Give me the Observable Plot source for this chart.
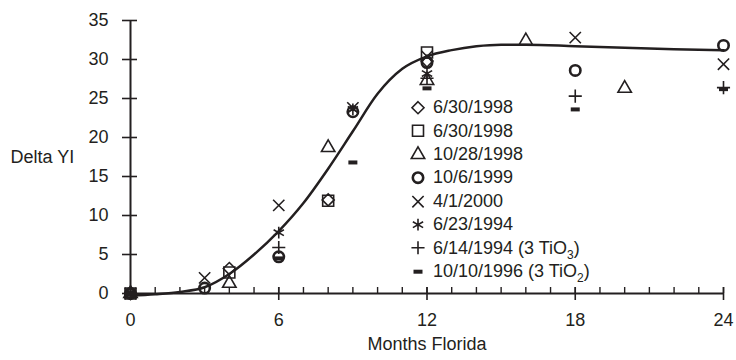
<!DOCTYPE html>
<html>
<head>
<meta charset="utf-8">
<script src="https://cdn.jsdelivr.net/npm/d3@7"></script>
<script src="https://cdn.jsdelivr.net/npm/@observablehq/plot@0.6"></script>
<style>
  body { margin: 0; background: #fff; }
  #chart { position: relative; width: 736px; height: 360px; color: #231f20;
           font-family: "Liberation Sans", Arial, sans-serif; }
  #legend { position: absolute; left: 407px; top: 96px; font-size: 18px; }
  .row { display: flex; align-items: center; height: 23.4px; white-space: nowrap; }
  .row svg { width: 22px; height: 23.4px; flex: none; margin-right: 4px; overflow: visible; }
  sub { font-size: 12px; vertical-align: -5px; line-height: 0; }
</style>
</head>
<body>
<div id="chart"><div id="legend"></div></div>
<script>
const ink = "#231f20";

// Axis ticks
const yTicks = [0, 5, 10, 15, 20, 25, 30, 35];
const xMajor = [0, 6, 12, 18, 24];
const xMinor = d3.range(0, 25);

// Exposure series: [month, delta YI]
const labels = [
  "6/30/1998", "6/30/1998", "10/28/1998", "10/6/1999",
  "4/1/2000", "6/23/1994", "6/14/1994 (3 TiO₃)", "10/10/1996 (3 TiO₂)"
];
const diamondSeries  = [[0, 0], [4, 3.2], [8, 12.0], [12, 29.8]];
const squareSeries   = [[0, 0], [4, 2.7], [8, 11.9], [12, 30.9]];
const triangleSeries = [[0, 0], [4, 1.3], [8, 18.7], [12, 27.3], [16, 32.4], [20, 26.3]];
const circleSeries   = [[0, 0], [3, 0.7], [6, 4.7], [9, 23.3], [12, 29.6], [18, 28.6], [24, 31.8]];
const timesSeries    = [[0, 0], [3, 2.0], [6, 11.3], [9, 23.8], [12, 30.4], [18, 32.8], [24, 29.4]];
const asteriskSeries = [[0, 0], [6, 7.8], [9, 23.6], [12, 28.2]];
const plusSeries     = [[0, 0], [6, 5.9], [12, 27.6], [18, 25.3], [24, 26.4]];
const minusSeries    = [[0, 0], [6, 4.5], [9, 16.8], [12, 26.3], [18, 23.6], [24, 26.2]];

// Fitted trend curve: [month, delta YI]
const fitCurve = [
  [0, -0.3], [1, -0.1], [2, 0.2], [3, 0.8], [4, 2.5], [5, 5.0], [6, 8.0],
  [7, 11.6], [8, 16.0], [9, 20.8], [10, 25.6], [11, 28.8], [12, 30.4],
  [13, 31.2], [14, 31.7], [15, 31.9], [16, 31.9], [18, 31.7], [20, 31.5],
  [22, 31.3], [24, 31.2]
];

// Short filled bar used for the 10/10/1996 series
const minusSymbol = { draw(ctx) { ctx.rect(-4.5, -2, 9, 4); } };

const series = [
  { data: diamondSeries,  symbol: d3.symbolDiamond2,  r: 5.4, sw: 1.6 },
  { data: squareSeries,   symbol: d3.symbolSquare2,   r: 7.0, sw: 1.6 },
  { data: triangleSeries, symbol: d3.symbolTriangle2, r: 6.4, sw: 1.6 },
  { data: circleSeries,   symbol: d3.symbolCircle,    r: 5.2, sw: 2.6 },
  { data: timesSeries,    symbol: d3.symbolTimes,     r: 5.2, sw: 1.6 },
  { data: asteriskSeries, symbol: d3.symbolAsterisk,  r: 5.6, sw: 1.6 },
  { data: plusSeries,     symbol: d3.symbolPlus,      r: 4.3, sw: 1.6 },
  { data: minusSeries,    symbol: minusSymbol,        r: 4,   sw: 0, filled: true }
];

const font = "Liberation Sans, Arial, sans-serif";

const chart = Plot.plot({
  width: 736,
  height: 360,
  marginLeft: 130,
  marginRight: 13,
  marginTop: 20,
  marginBottom: 67,
  style: { fontFamily: font, color: ink, background: "white", overflow: "visible" },
  x: { domain: [0, 24] },
  y: { domain: [0, 35] },
  marks: [
    // y ticks crossing the axis, with labels
    Plot.axisY({ ticks: yTicks, tickSize: 15, dx: 7, fill: "none", strokeWidth: 1.6, label: null }),
    Plot.axisY({ ticks: yTicks, tickSize: 0, tickPadding: 22, fontSize: 18, label: null }),
    // x ticks: monthly minor ticks inside, major ticks crossing
    Plot.axisX({ ticks: xMinor, tickSize: 6, dy: -6, fill: "none", strokeWidth: 1.4, label: null }),
    Plot.axisX({ ticks: xMajor, tickSize: 13, dy: -6, fill: "none", strokeWidth: 1.6, label: null }),
    Plot.axisX({ ticks: xMajor, tickSize: 0, tickPadding: 20, fontSize: 18, label: null }),
    Plot.ruleX([0], { stroke: ink, strokeWidth: 2 }),
    Plot.ruleY([0], { stroke: ink, strokeWidth: 2 }),
    Plot.text(["Delta YI"], { text: d => d, frameAnchor: "left", dx: -120, textAnchor: "start", fontSize: 18, fill: ink }),
    Plot.text(["Months Florida"], { text: d => d, frameAnchor: "bottom", dy: 44, lineAnchor: "top", fontSize: 18, fill: ink }),
    Plot.line(fitCurve, { x: d => d[0], y: d => d[1], curve: "monotone-x", stroke: ink, strokeWidth: 2.5 }),
    ...series.map(s => Plot.dot(s.data, {
      x: d => d[0],
      y: d => d[1],
      symbol: s.symbol,
      r: s.r,
      fill: s.filled ? ink : "none",
      stroke: s.filled ? "none" : ink,
      strokeWidth: s.sw
    }))
  ]
});

document.getElementById("chart").prepend(chart);

// Legend: one row per series, symbol followed by its label
const legend = d3.select("#legend");
series.forEach((s, i) => {
  const row = legend.append("div").attr("class", "row");
  const svg = row.append("svg");
  svg.append("path")
    .attr("transform", "translate(11,11.7)")
    .attr("d", d3.symbol(s.symbol, Math.PI * s.r * s.r)())
    .attr("fill", s.filled ? ink : "none")
    .attr("stroke", s.filled ? "none" : ink)
    .attr("stroke-width", s.sw);
  row.append("span").html(labels[i].replace(/[₀-₉]/g, c => `<sub>${c.charCodeAt(0) - 0x2080}</sub>`));
});
</script>
</body>
</html>
